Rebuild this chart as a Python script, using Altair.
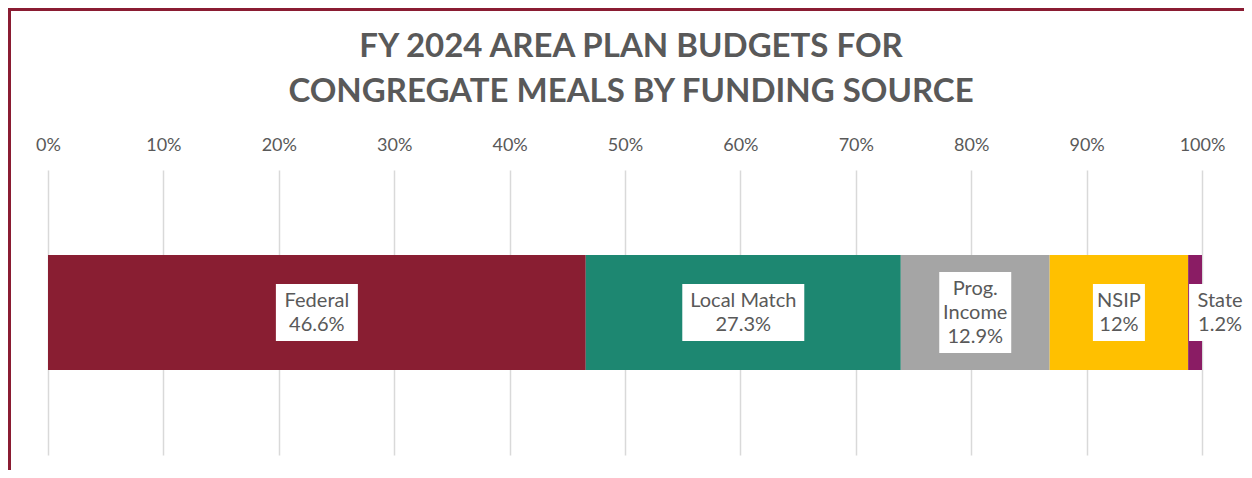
import altair as alt
import pandas as pd

# ---- data ----
categories = ["Federal", "Local Match", "Prog. Income", "NSIP", "State"]
values = [46.6, 27.3, 12.9, 12.0, 1.2]
label_lines = [["Federal"], ["Local Match"], ["Prog.", "Income"], ["NSIP"], ["State"]]
colors = ["#891E32", "#1D8771", "#A5A5A5", "#FFC000", "#8A1C64"]
tick_values = [0, 10, 20, 30, 40, 50, 60, 70, 80, 90, 100]
title_lines = ["FY 2024 AREA PLAN BUDGETS FOR", "CONGREGATE MEALS BY FUNDING SOURCE"]

df = pd.DataFrame({"category": categories, "value": values})
df["idx"] = range(len(df))
df["end"] = df["value"].cumsum()
df["start"] = df["end"] - df["value"]
df["mid"] = (df["start"] + df["end"]) / 2
df["row"] = "all"
df["label"] = ["\n".join(l + [f"{v:g}%"]) for l, v in zip(label_lines, values)]

FONT = "Lato"
GREY = "#595959"
BORDER = "#8A1C32"
LH = 24

x_scale = alt.Scale(domain=[0, 100], nice=False, zero=True)
x_axis = alt.Axis(
    orient="top", values=tick_values, labelExpr="datum.value + '%'",
    ticks=False, domain=False, grid=True, gridColor="#D9D9D9", gridWidth=1.5,
    labelFont=FONT, labelFontSize=18, labelColor=GREY, labelPadding=16,
    labelFlush=False, title=None,
)
y_enc = alt.Y("row:N", axis=None, scale=alt.Scale(paddingInner=0, paddingOuter=0.739))

base = alt.Chart(df)

bars = base.mark_bar().encode(
    x=alt.X("start:Q", scale=x_scale, axis=x_axis),
    x2="end:Q",
    y=y_enc,
    color=alt.Color("category:N", scale=alt.Scale(domain=categories, range=colors), legend=None),
)

layers = [bars]
for i, cat in enumerate(categories):
    lines = label_lines[i] + [f"{values[i]:g}%"]
    n_chars = max(len(s) for s in lines)
    box_w = n_chars * 10 + 12
    box_h = len(lines) * LH + 9
    shift = 25 if cat == "State" else 0
    sub = base.transform_filter(alt.datum.category == cat)
    box = sub.mark_bar(
        color="white", size=box_h, xOffset=-box_w / 2 + shift, x2Offset=box_w / 2 + shift
    ).encode(x=alt.X("mid:Q", scale=x_scale, axis=x_axis), x2="mid:Q", y=y_enc)
    txt = sub.mark_text(
        font=FONT, fontSize=20, color=GREY, lineBreak="\n", lineHeight=LH,
        baseline="middle", align="center", dx=shift, dy=-(len(lines) - 1) * LH / 2,
    ).encode(x=alt.X("mid:Q", scale=x_scale, axis=x_axis), y=y_enc, text="label:N")
    layers += [box, txt]

one = alt.Data(values=[{"k": 1}])
left_border = alt.Chart(one).mark_rule(color=BORDER, strokeWidth=3).encode(
    x=alt.value(-38.5), y=alt.value(-162), y2=alt.value(310)
)
top_border = alt.Chart(one).mark_rule(color=BORDER, strokeWidth=3).encode(
    x=alt.value(-40), x2=alt.value(1260), y=alt.value(-160.5)
)
title_text = alt.Chart(one).mark_text(
    text=title_lines, font=FONT, fontSize=33, fontWeight="bold", color=GREY,
    lineHeight=45, align="center", baseline="middle",
).encode(x=alt.value(583), y=alt.value(-123))
layers += [left_border, top_border, title_text]

chart = alt.layer(*layers).properties(
    width=1154,
    height=285,
    autosize=alt.AutoSizeParams(type="none"),
    padding={"left": 40, "top": 162, "right": 42, "bottom": 15},
).configure(background="white", view=alt.ViewConfig(stroke=None))

chart.save("out.html", embed_options={"renderer": "svg", "actions": False})
